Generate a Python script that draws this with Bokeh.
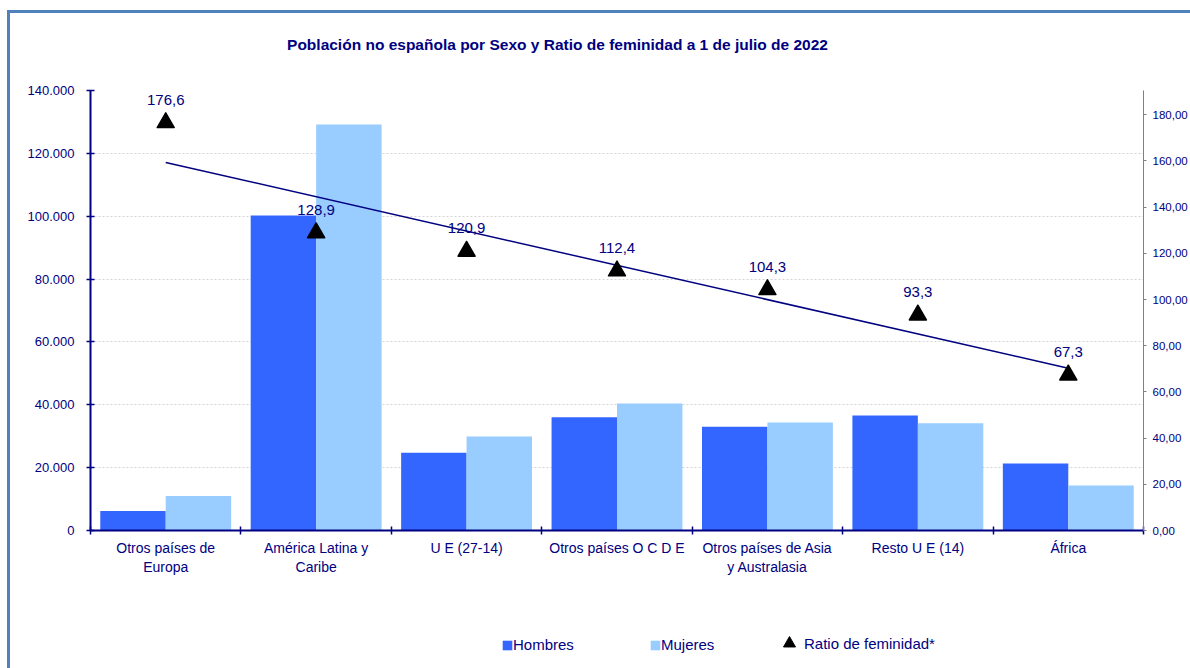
import numpy as np
from bokeh.plotting import figure
from bokeh.layouts import column
from bokeh.models import (Range1d, LinearAxis, FixedTicker, CustomJSTickFormatter,
                          Label, Legend, LegendItem, ColumnDataSource)
from bokeh.core.properties import value
from bokeh.embed import file_html
from bokeh.resources import INLINE

# ---------------- data ----------------
categories = ["Otros países de\nEuropa", "América Latina y\nCaribe", "U E (27-14)",
              "Otros países O C D E", "Otros países de Asia\ny Australasia",
              "Resto U E (14)", "África"]
hombres = [6200, 100200, 24700, 36000, 33000, 36600, 21300]
mujeres = [10950, 129200, 29900, 40400, 34400, 34100, 14300]
ratio = [176.6, 128.9, 120.9, 112.4, 104.3, 93.3, 67.3]
left_ticks = [0, 20000, 40000, 60000, 80000, 100000, 120000, 140000]
right_ticks = [0, 20, 40, 60, 80, 100, 120, 140, 160, 180]
series_names = ["Hombres", "Mujeres", "Ratio de feminidad*"]
title_text = "Población no española por Sexo y Ratio de feminidad a 1 de julio de 2022"

NAVY = "#000080"
FONT = "Liberation Sans"
C_H = "#3366FF"
C_M = "#99CCFF"
W = 1180

n = len(categories)
idx = np.arange(n)
centers = idx + 0.5
bw = 0.435

src = ColumnDataSource(dict(
    xh=centers - bw / 2, xm=centers + bw / 2, h=hombres, m=mujeres,
    xc=centers, r=ratio, lab=[f"{v:.1f}".replace(".", ",") for v in ratio],
))


def blank_fig(h):
    f = figure(width=W, height=h, output_backend="svg", toolbar_location=None,
               x_axis_type=None, y_axis_type=None, min_border=0,
               x_range=Range1d(0, 1), y_range=Range1d(0, 1))
    f.outline_line_color = None
    f.background_fill_color = "white"
    f.border_fill_color = "white"
    return f


# ---------------- title strip ----------------
tf = blank_fig(50)
tf.add_layout(Label(x=467, y=19, x_units="screen", y_units="screen", text=title_text,
                    text_align="center", text_baseline="middle", text_color=NAVY,
                    text_font=FONT, text_font_size="15.5px", text_font_style="bold"))

# ---------------- main chart ----------------
p = figure(width=W, height=537, output_backend="svg", toolbar_location=None,
           x_range=Range1d(0, n), y_range=Range1d(0, 140000),
           min_border_left=80, min_border_right=47, min_border_top=27, min_border_bottom=70)
p.outline_line_color = None
p.background_fill_color = "white"
p.border_fill_color = "white"
p.extra_y_ranges = {"ratio": Range1d(0, 190.5)}

p.xgrid.visible = False
p.ygrid.grid_line_color = "#d4d4d4"
p.ygrid.grid_line_dash = "2 2"
p.ygrid.grid_line_width = 1

hb = p.vbar(x="xh", top="h", width=bw, source=src, fill_color=C_H, line_color=None)
mb = p.vbar(x="xm", top="m", width=bw, source=src, fill_color=C_M, line_color=None)

k, b = np.polyfit(idx, ratio, 1)
p.line(x=[centers[0], centers[-1]], y=[k * idx[0] + b, k * idx[-1] + b],
       y_range_name="ratio", line_color=NAVY, line_width=1.5)

tr = p.scatter(x="xc", y="r", source=src, y_range_name="ratio", marker="triangle",
               size=17, fill_color="black", line_color="black", line_width=1.5,
               line_join="round")
p.text(x="xc", y="r", text="lab", source=src, y_range_name="ratio", y_offset=-23,
       text_align="center", text_baseline="middle", text_color=NAVY,
       text_font=value(FONT), text_font_size="15px")

xa = p.xaxis[0]
xa.ticker = FixedTicker(ticks=list(centers), minor_ticks=list(range(n + 1)))
xa.major_label_overrides = {float(c): cat for c, cat in zip(centers, categories)}
xa.major_tick_in = 0
xa.major_tick_out = 0
xa.minor_tick_in = 4
xa.minor_tick_out = 4
xa.minor_tick_line_color = NAVY
xa.minor_tick_line_width = 1.5
xa.axis_line_color = NAVY
xa.axis_line_width = 2
xa.major_label_standoff = 5
xa.major_label_text_color = NAVY
xa.major_label_text_font = FONT
xa.major_label_text_font_size = "14px"

ya = p.yaxis[0]
ya.ticker = FixedTicker(ticks=left_ticks)
ya.formatter = CustomJSTickFormatter(code="return tick.toFixed(0).replace(/\\B(?=(\\d{3})+(?!\\d))/g, '.');")
ya.axis_line_color = NAVY
ya.axis_line_width = 2
ya.major_tick_line_color = NAVY
ya.major_tick_line_width = 1.5
ya.major_tick_in = 4
ya.major_tick_out = 4
ya.minor_tick_line_color = None
ya.major_label_standoff = 12
ya.major_label_text_color = NAVY
ya.major_label_text_font = FONT
ya.major_label_text_font_size = "13px"

ra = LinearAxis(y_range_name="ratio", ticker=FixedTicker(ticks=right_ticks),
                formatter=CustomJSTickFormatter(code="return tick.toFixed(2).replace('.', ',');"))
ra.axis_line_color = "#808080"
ra.axis_line_width = 1
ra.major_tick_line_color = "#808080"
ra.major_tick_in = 0
ra.major_tick_out = 3
ra.minor_tick_line_color = None
ra.major_label_standoff = 6
ra.major_label_text_color = NAVY
ra.major_label_text_font = FONT
ra.major_label_text_font_size = "11.5px"
p.add_layout(ra, "right")

# ---------------- legend strip ----------------
lf = blank_fig(68)
lh = lf.vbar(x=[np.nan], top=[np.nan], width=1, fill_color=C_H, line_color=None)
lm = lf.vbar(x=[np.nan], top=[np.nan], width=1, fill_color=C_M, line_color=None)
lt = lf.scatter(x=[np.nan], y=[np.nan], marker="triangle", size=12, fill_color="black",
                line_color="black", line_join="round")


def mk_legend(label, rend, x, y, gw, gh, standoff):
    lg = Legend(items=[LegendItem(label=label, renderers=[rend])], location=(x, y),
                glyph_width=gw, glyph_height=gh, label_standoff=standoff,
                padding=0, margin=0, border_line_color=None, background_fill_alpha=0,
                label_text_color=NAVY, label_text_font=FONT, label_text_font_size="15px")
    lf.add_layout(lg, "center")


mk_legend(series_names[0], lh, 411, 15, 12, 12, 0)
mk_legend(series_names[1], lm, 559, 15, 12, 12, 0)
mk_legend(series_names[2], lt, 684, 10, 30, 30, 0)

layout = column(tf, p, lf, spacing=0,
                styles={"border-top": "3px solid #4F81BD", "border-left": "3px solid #4F81BD",
                        "margin-left": "7px", "margin-top": "10px"})

open("out.html", "w").write(file_html(layout, INLINE))
